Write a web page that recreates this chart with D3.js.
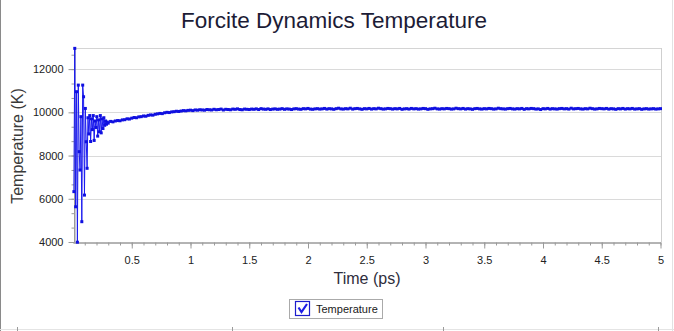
<!DOCTYPE html>
<html>
<head>
<meta charset="utf-8">
<script src="https://cdn.jsdelivr.net/npm/d3@7"></script>
<style>
  body { margin: 0; background: #fff; }
  svg { display: block; }
</style>
</head>
<body>
<script>
// Temperature read off the picture. Early part sampled finely (every 0.0075 ps),
// the rest every 0.02 ps starting at 0.32 ps.
var EARLY_STEP = 0.0075;
var LATE_START = 0.32, LATE_STEP = 0.02;

var tempEarly = [
  6330, 12960, 5630, 10955, 3990, 11260, 8180, 7330, 9800, 4940,
  11260, 10720, 6170, 10180, 8640, 7410, 9750, 9000, 9850, 8650,
  9700, 9200, 9850, 8700, 9600, 9300, 9800, 8900, 9650, 9100,
  9850, 9050, 9700, 9250, 9750, 9400, 9600, 9450, 9550, 9500
];

var tempLate = [
  9580, 9560, 9600, 9620, 9610, 9650, 9660, 9700, 9690, 9730,
  9760, 9750, 9790, 9800, 9830, 9820, 9860, 9880, 9870, 9910,
  9930, 9950, 9940, 9980, 10000, 9990, 10020, 10030, 10050, 10040,
  10060, 10080, 10070, 10090, 10100, 10080, 10110, 10100, 10120, 10110,
  10100, 10130, 10120, 10110, 10140, 10120, 10130, 10150, 10110, 10140,
  10130, 10120, 10150, 10140, 10160, 10130, 10120, 10150, 10140, 10130,
  10150, 10140, 10160, 10130, 10170, 10150, 10140, 10160, 10130, 10150,
  10160, 10140, 10150, 10170, 10140, 10160, 10150, 10130, 10160, 10170,
  10150, 10140, 10170, 10160, 10180, 10150, 10140, 10160, 10170, 10150,
  10160, 10180, 10150, 10170, 10160, 10140, 10170, 10190, 10160, 10150,
  10170, 10160, 10190, 10150, 10170, 10180, 10160, 10140, 10170, 10160,
  10180, 10150, 10170, 10160, 10190, 10170, 10150, 10160, 10180, 10170,
  10150, 10170, 10160, 10180, 10140, 10160, 10170, 10150, 10180, 10160,
  10170, 10150, 10160, 10180, 10170, 10140, 10160, 10170, 10190, 10160,
  10150, 10170, 10160, 10180, 10170, 10150, 10160, 10190, 10170, 10160,
  10180, 10150, 10170, 10160, 10140, 10170, 10180, 10160, 10150, 10170,
  10160, 10180, 10170, 10150, 10160, 10190, 10170, 10160, 10150, 10170,
  10180, 10160, 10150, 10170, 10160, 10180, 10140, 10170, 10160, 10180,
  10170, 10150, 10160, 10130, 10170, 10160, 10180, 10150, 10170, 10160,
  10150, 10170, 10180, 10160, 10170, 10150, 10190, 10160, 10170, 10180,
  10160, 10150, 10170, 10160, 10190, 10170, 10150, 10160, 10180, 10170,
  10160, 10180, 10150, 10170, 10160, 10140, 10170, 10160, 10180, 10150,
  10170, 10160, 10180, 10150, 10160, 10170, 10140, 10160, 10170, 10150,
  10160, 10170, 10150, 10160, 10170
];

var xTicks = [0.5, 1, 1.5, 2, 2.5, 3, 3.5, 4, 4.5, 5];
var yTicks = [4000, 6000, 8000, 10000, 12000];

var points = tempEarly.map(function(v, i) { return { t: (i + 1) * EARLY_STEP, v: v }; })
  .concat(tempLate.map(function(v, i) { return { t: LATE_START + i * LATE_STEP, v: v }; }));

var W = 674, H = 331;
var plot = { left: 74, right: 661, top: 48, bottom: 242 };

var svg = d3.select("body").append("svg")
    .attr("width", W)
    .attr("height", H);

var x = d3.scaleLinear().domain([0, 5]).range([73, 660.5]);
var y = d3.scaleLinear().domain([4000, 13000]).range([242, 47.5]);

// window frame bits
svg.append("line").attr("x1", 0.5).attr("x2", 0.5).attr("y1", 0).attr("y2", H)
  .attr("stroke", "#8a8a8a");
svg.append("line").attr("x1", 672.5).attr("x2", 672.5).attr("y1", 0).attr("y2", H)
  .attr("stroke", "#e2e2e2");
svg.append("line").attr("x1", 0).attr("x2", W).attr("y1", 329.5).attr("y2", 329.5)
  .attr("stroke", "#e4e4e4");
[17, 232, 443, 658].forEach(function(px) {
  svg.append("line").attr("x1", px + 0.5).attr("x2", px + 0.5).attr("y1", 327).attr("y2", H)
    .attr("stroke", "#9a9a9a");
});

// title
svg.append("text")
  .attr("x", 334).attr("y", 28)
  .attr("text-anchor", "middle")
  .style("font-family", "Liberation Sans, Arial, sans-serif")
  .style("font-size", "22.5px")
  .style("fill", "#1c1c36")
  .text("Forcite Dynamics Temperature");

// grid lines + plot frame
svg.append("g").selectAll("line")
  .data(yTicks.filter(function(d) { return d > 4000; }))
  .enter().append("line")
  .attr("x1", plot.left).attr("x2", plot.right)
  .attr("y1", function(d) { return Math.round(y(d)) + 0.5; })
  .attr("y2", function(d) { return Math.round(y(d)) + 0.5; })
  .attr("stroke", "#dadada");
svg.append("line").attr("x1", plot.left).attr("x2", plot.right)
  .attr("y1", plot.top + 0.5).attr("y2", plot.top + 0.5).attr("stroke", "#d4d4d4");
svg.append("line").attr("x1", plot.right + 0.5).attr("x2", plot.right + 0.5)
  .attr("y1", plot.top).attr("y2", plot.bottom).attr("stroke", "#cfcfcf");

// axes
var xMinor = d3.range(1, 51).map(function(d) { return d / 10; });
var yMinor = d3.range(4000, 13001, 2000 / 3);

var xAxisMinor = svg.append("g")
  .attr("transform", "translate(0," + (plot.bottom + 0.5) + ")")
  .call(d3.axisBottom(x).tickValues(xMinor).tickSize(3).tickFormat("").tickSizeOuter(0));
var xAxis = svg.append("g")
  .attr("transform", "translate(0," + (plot.bottom + 0.5) + ")")
  .call(d3.axisBottom(x).tickValues(xTicks).tickSize(6).tickPadding(8).tickSizeOuter(0)
    .tickFormat(function(d) { return d; }));
var yAxisMinor = svg.append("g")
  .attr("transform", "translate(" + (plot.left + 0.5) + ",0)")
  .call(d3.axisLeft(y).tickValues(yMinor).tickSize(3).tickFormat("").tickSizeOuter(0));
var yAxis = svg.append("g")
  .attr("transform", "translate(" + (plot.left + 0.5) + ",0)")
  .call(d3.axisLeft(y).tickValues(yTicks).tickSize(6).tickPadding(5).tickSizeOuter(0)
    .tickFormat(function(d) { return d; }));

[xAxisMinor, xAxis, yAxisMinor, yAxis].forEach(function(g) {
  g.select(".domain").attr("stroke", "#9a9a9a");
  g.selectAll(".tick line").attr("stroke", "#9a9a9a");
  g.selectAll(".tick text")
    .style("font-family", "Liberation Sans, Arial, sans-serif")
    .style("font-size", "11px")
    .style("fill", "#222");
});
yAxis.select(".domain").attr("d", "M0," + plot.top + "V" + plot.bottom);

// axis titles
svg.append("text")
  .attr("x", 367).attr("y", 284)
  .attr("text-anchor", "middle")
  .style("font-family", "Liberation Sans, Arial, sans-serif")
  .style("font-size", "16px")
  .style("fill", "#2e2e3c")
  .text("Time (ps)");
svg.append("text")
  .attr("transform", "translate(23,146) rotate(-90)")
  .attr("text-anchor", "middle")
  .style("font-family", "Liberation Sans, Arial, sans-serif")
  .style("font-size", "16px")
  .style("fill", "#3a3a3a")
  .text("Temperature (K)");

// series
var line = d3.line()
  .x(function(d) { return x(d.t); })
  .y(function(d) { return y(d.v); });

svg.append("path")
  .datum(points)
  .attr("fill", "none")
  .attr("stroke", "#1a1af0")
  .attr("stroke-width", 1)
  .attr("d", line);

svg.append("g").selectAll("rect")
  .data(points)
  .enter().append("rect")
  .attr("x", function(d) { return x(d.t) - 1.5; })
  .attr("y", function(d) { return y(d.v) - 1.5; })
  .attr("width", 3).attr("height", 3)
  .attr("fill", "#1010e0");

// legend
var legend = svg.append("g");
legend.append("rect")
  .attr("x", 289.5).attr("y", 299.5).attr("width", 93).attr("height", 19)
  .attr("fill", "#fff").attr("stroke", "#aaaaaa");
legend.append("rect")
  .attr("x", 295.5).attr("y", 301.5).attr("width", 14).attr("height", 14)
  .attr("fill", "#fff").attr("stroke", "#1c1ccc").attr("stroke-width", 1.2);
legend.append("path")
  .attr("d", "M298.5,307.5 L301.5,312 L307,304")
  .attr("fill", "none").attr("stroke", "#1e1ee6").attr("stroke-width", 2.2);
legend.append("text")
  .attr("x", 316).attr("y", 313)
  .style("font-family", "Liberation Sans, Arial, sans-serif")
  .style("font-size", "11px")
  .style("fill", "#1a1a1a")
  .text("Temperature");
</script>
</body>
</html>
